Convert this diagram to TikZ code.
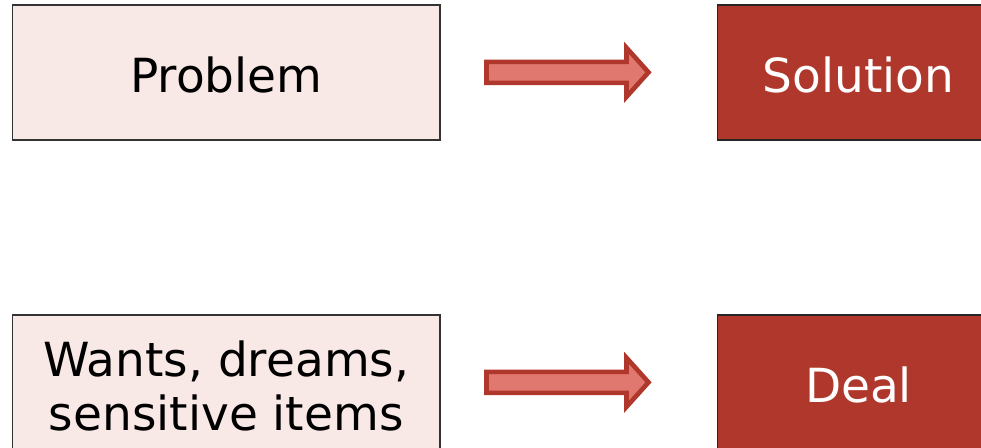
\documentclass[tikz,border=0pt]{standalone}
\usepackage{fontspec}
\setmainfont{DejaVu Sans}
\definecolor{paleblush}{HTML}{F8E8E6}
\definecolor{brick}{HTML}{B0372B}
\definecolor{salmon}{HTML}{E07870}
\definecolor{edgegray}{HTML}{333333}
\begin{document}
\begin{tikzpicture}[x=1pt,y=1pt,
  bigtext/.style={font=\fontsize{47}{54}\selectfont},
  lightbox/.style={draw=edgegray,line width=1.5pt,fill=paleblush,
    minimum width=427.5pt,minimum height=135pt,inner sep=0pt,
    text height=39pt,text depth=0pt,bigtext},
  darkbox/.style={draw=black!85,line width=1.5pt,fill=brick,text=white,
    minimum width=282pt,minimum height=135pt,inner sep=0pt,
    text height=39pt,text depth=0pt,bigtext},
  blockarrow/.style={draw=brick,fill=salmon,line width=4.6pt,line join=miter}
]
\path[use as bounding box,clip] (0,0) rectangle (981,-447);
\fill[white] (0,0) rectangle (981,-447);

% top row
\node[lightbox] (prob) at (226.25,-72.5) {Problem};
\node[darkbox]  (sol)  at (858.5,-72.5)  {Solution};

% bottom row
\node[lightbox,text height=0pt] (wants) at (226.25,-382.5) {};
\node[bigtext,anchor=base] (wantsA) at (226.25,-376) {Wants, dreams,};
\node[bigtext,anchor=base] (wantsB) at (226.25,-430) {sensitive items};
\node[darkbox]  (deal) at (858.5,-382.5) {Deal};

% block arrows between the rows' boxes
\foreach \y/\n in {0/arrTop,-310/arrBot}{
  \begin{scope}[yshift=\y]
    \draw[blockarrow] (486.5,-61.8) -- (626.5,-61.8) -- (626.5,-47.8)
      -- (648.5,-72.3) -- (626.5,-96.8) -- (626.5,-82.8)
      -- (486.5,-82.8) -- cycle;
    \coordinate (\n) at (567,-72.3);
  \end{scope}
}
\end{tikzpicture}
\end{document}
